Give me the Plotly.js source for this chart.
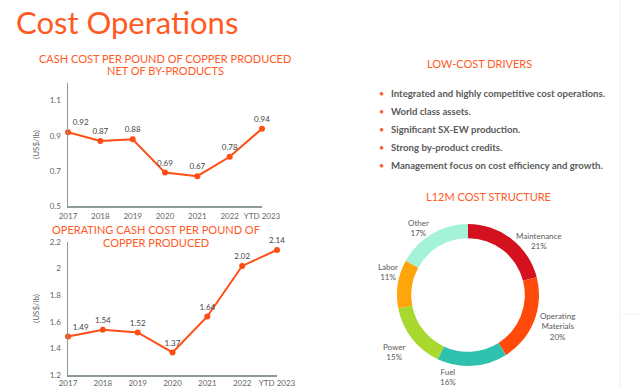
<!DOCTYPE html>
<html>
<head>
<meta charset="utf-8">
<script src="https://cdn.plot.ly/plotly-3.0.1.min.js"></script>
<style>
html,body{margin:0;padding:0;background:#fff;}
#chart{width:640px;height:389px;}
</style>
</head>
<body>
<div id="chart"></div>
<script>
// ---- data ----
const years = ["2017","2018","2019","2020","2021","2022","YTD 2023"];
const netCashCost = [0.92, 0.87, 0.88, 0.69, 0.67, 0.78, 0.94];
const operatingCashCost = [1.49, 1.54, 1.52, 1.37, 1.64, 2.02, 2.14];
const costLabels = ["Maintenance","Operating Materials","Fuel","Power","Labor","Other"];
const costDisplay = ["Maintenance","Operating<br>Materials","Fuel","Power","Labor","Other"];
const costShares = [21, 20, 16, 15, 11, 17];
const drivers = [
  "Integrated and highly competitive cost operations.",
  "World class assets.",
  "Significant SX-EW production.",
  "Strong by-product credits.",
  "Management focus on cost efficiency and growth."
];
const chart1Ticks = [0.5, 0.7, 0.9, 1.1];
const chart2Ticks = [1.2, 1.4, 1.6, 1.8, 2, 2.2];

// ---- styles ----
const ORANGE = "#FF5A1F";
const LINE = "#FF4E14";
const GRAY = "#5a5a5a";
const AXIS = "#8d9a9a";
const FONT = "Lato, 'Open Sans', sans-serif";
const sliceColors = ["#D4121F","#FF4A0C","#2EC2AE","#A9D82E","#FFA50C","#A4F3D9"];
const W = 640, H = 389;
const px = x => x / W;
const py = y => 1 - y / H;

const labelPos = ["top right","top center","top center","top center","top center","top center","top center"];

const traces = [
  {
    type: "scatter", mode: "lines+markers+text",
    x: years, y: netCashCost, xaxis: "x", yaxis: "y",
    text: netCashCost.map(v => v.toFixed(2)),
    textposition: labelPos,
    textfont: {family: FONT, size: 8, color: "#444"},
    line: {color: LINE, width: 2},
    marker: {color: LINE, size: 6},
    cliponaxis: false, hoverinfo: "skip"
  },
  {
    type: "scatter", mode: "lines+markers+text",
    x: years, y: operatingCashCost, xaxis: "x2", yaxis: "y2",
    text: operatingCashCost.map(v => v.toFixed(2)),
    textposition: labelPos,
    textfont: {family: FONT, size: 8, color: "#444"},
    line: {color: LINE, width: 2},
    marker: {color: LINE, size: 6},
    cliponaxis: false, hoverinfo: "skip"
  },
  {
    type: "pie", labels: costLabels, values: costShares,
    sort: false, direction: "clockwise", rotation: 0,
    hole: 0.8, textinfo: "none",
    marker: {colors: sliceColors, line: {width: 0}},
    domain: {x: [px(397), px(539)], y: [py(366), py(224)]},
    showlegend: false, hoverinfo: "skip"
  }
];

const axX = (dom, standoff) => ({
  domain: dom, type: "category", range: [0, 6],
  showline: true, linecolor: AXIS, linewidth: 1.5,
  showgrid: false, zeroline: false, ticks: "",
  tickfont: {family: FONT, size: 8, color: "#666"},
  ticklabelstandoff: standoff,
  fixedrange: true
});
const axY = (dom, range, ticks) => ({
  domain: dom, range: range, tickvals: ticks,
  ticktext: ticks.map(String),
  showline: true, linecolor: AXIS, linewidth: 1.5,
  showgrid: false, zeroline: false, ticks: "",
  tickfont: {family: FONT, size: 8, color: "#666"},
  ticklabelstandoff: 4,
  title: {text: "(US$/lb)", font: {family: FONT, size: 8, color: "#666"}, standoff: 9},
  fixedrange: true
});

const annotations = [];
function addText(text, x, y, size, color, xanchor) {
  annotations.push({
    text: text, x: px(x), y: py(y), xref: "paper", yref: "paper",
    xanchor: xanchor || "center", yanchor: "middle", showarrow: false,
    font: {family: FONT, size: size, color: color}
  });
}
addText("CASH COST PER POUND OF COPPER PRODUCED", 165, 58, 11, ORANGE);
addText("NET OF BY-PRODUCTS", 165, 70, 11, ORANGE);
addText("OPERATING CASH COST PER POUND OF", 156, 230, 11, ORANGE);
addText("COPPER PRODUCED", 156, 242, 11, ORANGE);
addText("LOW-COST DRIVERS", 479, 64, 11, ORANGE);
addText("L12M COST STRUCTURE", 488, 196, 11, ORANGE);
drivers.forEach((d, i) => {
  const y = 93 + i * 18;
  addText("•", 381, y, 9, ORANGE);
  addText("<b>" + d + "</b>", 389, y, 9.6, GRAY, "left");
});
const pieLabelPos = [[539,241],[557,326],[448,377],[394,352],[388,272],[418,228]];
costLabels.forEach((l, i) => {
  addText(costDisplay[i] + "<br>" + costShares[i] + "%", pieLabelPos[i][0], pieLabelPos[i][1], 8, GRAY);
});

const layout = {
  width: W, height: H,
  margin: {l: 0, r: 0, t: 0, b: 0},
  paper_bgcolor: "#fff", plot_bgcolor: "rgba(0,0,0,0)",
  showlegend: false,
  title: {text: "Cost Operations", x: px(16), xanchor: "left", xref: "paper",
          y: py(23), yanchor: "middle", yref: "paper",
          font: {family: FONT, size: 31, color: ORANGE}},
  xaxis: axX([px(68), px(262)], 2),
  yaxis: axY([py(206), py(83)], [0.5, 1.2], chart1Ticks),
  xaxis2: Object.assign(axX([px(68), px(277)], 0), {anchor: "y2"}),
  yaxis2: Object.assign(axY([py(375), py(242)], [1.2, 2.2], chart2Ticks), {anchor: "x2"}),
  annotations: annotations,
  shapes: [
    {type: "line", xref: "paper", yref: "paper", x0: px(620), x1: px(620), y0: 0, y1: 1,
     line: {color: "#efefef", width: 1}},
    {type: "line", xref: "paper", yref: "paper", x0: px(622), x1: 1, y0: py(314), y1: py(314),
     line: {color: "#efefef", width: 1}}
  ]
};
layout.xaxis.anchor = "y";
layout.yaxis.anchor = "x";

Plotly.newPlot("chart", traces, layout, {staticPlot: true, displayModeBar: false});
</script>
</body>
</html>
